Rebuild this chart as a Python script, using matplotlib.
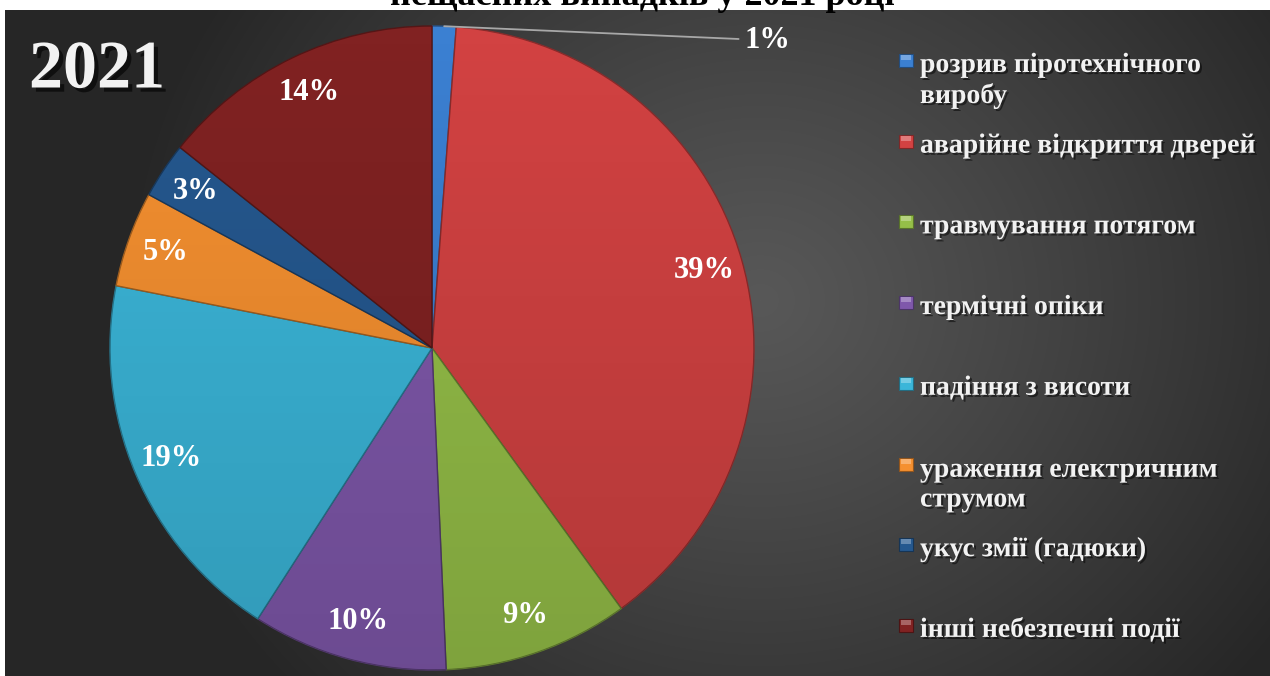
import numpy as np
import matplotlib
matplotlib.use('Agg')
import matplotlib.pyplot as plt
from matplotlib import patheffects as pe
from matplotlib.patches import Circle, Rectangle
from matplotlib.colors import to_rgb

# ---------------- data ----------------
categories = ["розрив піротехнічного\nвиробу",
              "аварійне відкриття дверей",
              "травмування потягом",
              "термічні опіки",
              "падіння з висоти",
              "ураження електричним\nструмом",
              "укус змії (гадюки)",
              "інші небезпечні події"]
shares = [1.2, 38.8, 9.3, 9.8, 19.0, 4.8, 2.8, 14.3]
colors = ["#3B80D2", "#D24242", "#95BF48", "#7F58AB",
          "#3BB6D9", "#F59030", "#25588F", "#812222"]
year_label = "2021"
title = "нещасних випадків у 2021 році"

SERIF = ['Liberation Serif', 'DejaVu Serif']
W, H = 1270, 676
fig = plt.figure(figsize=(12.7, 6.76), dpi=100)
fig.patch.set_facecolor('white')


def fx(x):
    return x / W


def fy(y):
    return 1 - y / H


def darker(c, f=0.7):
    r, g, b = to_rgb(c)
    return (r * f, g * f, b * f)


def lighter(c, f=0.35):
    r, g, b = to_rgb(c)
    return (r + (1 - r) * f, g + (1 - g) * f, b + (1 - b) * f)


# ---------------- background ----------------
bg_ax = fig.add_axes([fx(5), 0, 1 - fx(5), (H - 10) / H])
bg_ax.set_axis_off()
yy, xx = np.mgrid[10:H, 5:W]
d = np.hypot(xx - 760, (yy - 300) * 1.1)
t = np.clip(d / 640, 0, 1) ** 1.1
inner = np.array([0x58, 0x58, 0x58]) / 255
outer = np.array([0x26, 0x26, 0x26]) / 255
img = inner[None, None, :] * (1 - t[..., None]) + outer[None, None, :] * t[..., None]
bg_ax.imshow(img, aspect='auto', extent=(0, 1, 0, 1), interpolation='bilinear')
bg_ax.set_xlim(0, 1)
bg_ax.set_ylim(0, 1)

# ---------------- title (cut off at top, as in the source image) ----------------
fig.text(fx(642), fy(5), title, ha='center', va='baseline', fontsize=26,
         fontweight='bold', family=SERIF, color='black')

# ---------------- pie ----------------
cx, cy, R = 432, 348, 322
ax = fig.add_axes([fx(cx - R), fy(cy + R), 2 * R / W, 2 * R / H])
wedges, texts, autotexts = ax.pie(
    shares, colors=colors, startangle=90, counterclock=False, radius=1,
    autopct=lambda p: f'{p:.0f}%', pctdistance=0.88,
    wedgeprops=dict(linewidth=1.0),
    textprops=dict(color='white', fontsize=22, fontweight='bold', family=SERIF))
for w, c in zip(wedges, colors):
    w.set_edgecolor(darker(c, 0.65))

# subtle shading top->bottom
grad = np.zeros((200, 2, 4))
alpha = np.linspace(0.0, 0.15, 200)
grad[..., 3] = alpha[:, None]
im = ax.imshow(grad, extent=(-1, 1, -1, 1), aspect='auto', zorder=1.5,
               interpolation='bilinear')
im.set_clip_path(Circle((0, 0), 1, transform=ax.transData))
ax.set_xlim(-1, 1)
ax.set_ylim(-1, 1)
ax.set_axis_off()

# small first slice: label outside with leader line
autotexts[0].set_visible(False)
w0 = wedges[0]
mid = np.deg2rad((w0.theta1 + w0.theta2) / 2)
ax.annotate(autotexts[0].get_text(), xy=(np.cos(mid), np.sin(mid)),
            xytext=(300, -14), textcoords='offset pixels',
            ha='left', va='center', color='white', fontsize=22,
            fontweight='bold', family=SERIF,
            arrowprops=dict(arrowstyle='-', color='#A8A8A8', lw=1.3,
                            shrinkA=2, shrinkB=0))

# ---------------- big year label ----------------
fig.text(fx(97), fy(71), year_label, ha='center', va='center', fontsize=49,
         fontweight='bold', family=SERIF, color='#F2F2F2',
         path_effects=[pe.withSimplePatchShadow(offset=(3, -3), shadow_rgbFace='black', alpha=0.6)])

# ---------------- legend ----------------
base0, step, line_h = 72, 80.7, 31
for i, (lab, c) in enumerate(zip(categories, colors)):
    b = base0 + step * i
    nlines = lab.count("\n") + 1
    fig.patches.append(Rectangle((fx(899), fy(b - 5)), 14 / W, 13 / H,
                                 transform=fig.transFigure, facecolor=c,
                                 edgecolor=darker(c, 0.6), linewidth=0.8))
    fig.patches.append(Rectangle((fx(901), fy(b - 12)), 10 / W, 5 / H,
                                 transform=fig.transFigure, facecolor=lighter(c, 0.3),
                                 edgecolor='none'))
    fig.text(fx(920), fy(b + line_h * (nlines - 1)), lab, ha='left', va='baseline',
             fontsize=20, fontweight='bold', family=SERIF, color='#F2F2F2',
             linespacing=1.25,
             path_effects=[pe.withSimplePatchShadow(offset=(1.5, -1.5), shadow_rgbFace='black', alpha=0.5)])

fig.savefig('out.png', dpi=100, facecolor=fig.get_facecolor())
